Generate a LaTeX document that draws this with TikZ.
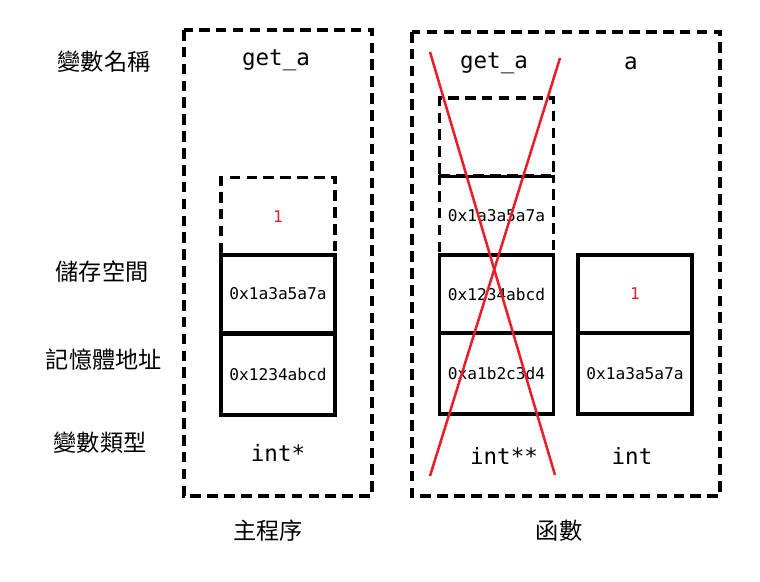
\documentclass[tikz,border=0pt]{standalone}
\usepackage{fontspec}
\setmainfont{Noto Sans CJK TC}
\newfontfamily\codefont{DejaVu Sans Mono}
\usetikzlibrary{calc}

\definecolor{crossred}{RGB}{232,30,40}

\begin{document}
\begin{tikzpicture}[
    x=0.025cm,
    y=-0.025cm,
    line cap=butt,
    line join=miter,
    frame/.style={line width=2.3pt, dash pattern=on 7.5pt off 4.5pt},
    cell/.style={draw, line width=2.3pt, minimum width=2.85cm, minimum height=1.95cm,
                 inner sep=0pt, outer sep=0pt, font=\codefont\fontsize{11.5}{12}\selectfont},
    freecell/.style={cell, dash pattern=on 7.5pt off 4.5pt},
    tallcell/.style={cell, minimum height=2.03cm},
    rowlabel/.style={font=\fontsize{16.5}{18}\selectfont},
    varname/.style={font=\codefont\fontsize{16}{18}\selectfont},
    cross/.style={draw=crossred, line width=1.8pt}
]

\useasboundingbox (0,0) rectangle (760,582);

% Row labels
\node[rowlabel] (lname) at (104,62)  {變數名稱};
\node[rowlabel] (lval)  at (102,272) {儲存空間};
\node[rowlabel] (laddr) at (104,360) {記憶體地址};
\node[rowlabel] (ltype) at (100,443) {變數類型};

% Scopes
\draw[frame] (184,30) rectangle (372,496);
\draw[frame] (412,32) rectangle (720,496);
\node[rowlabel] (tmain) at (268,531) {主程序};
\node[rowlabel] (tfunc) at (559,531) {函數};

% main: get_a
\node[varname] (mname) at (276,60) {get\_a};
\node[freecell] (mfree) at (278,216.5) {\textcolor{crossred}{1}};
\node[cell]     (mval)  at (278,294)   {0x1a3a5a7a};
\node[tallcell] (maddr) at (278,374.5) {0x1234abcd};
\node[varname]  (mtype) at (278,453)   {int*};

% function: get_a
\node[varname]  (pname) at (494,63)    {get\_a};
\node[freecell] (ptop)  at (496.5,137) {};
\node[freecell] (pfree) at (496.5,215.5) {0x1a3a5a7a};
\node[cell]     (pval)  at (496.5,294) {0x1234abcd};
\node[tallcell] (paddr) at (496.5,373.5) {0xa1b2c3d4};
\node[varname]  (ptype) at (504,456)   {int**};

% function: a
\node[varname]  (aname) at (631,63)    {a};
\node[cell]     (aval)  at (635,294)   {\textcolor{crossred}{1}};
\node[tallcell] (aaddr) at (635,373.5) {0x1a3a5a7a};
\node[varname]  (atype) at (632,456)   {int};

% Cross out
\coordinate (x1) at (430,52);
\coordinate (x2) at (555,475);
\coordinate (x3) at (560,58);
\coordinate (x4) at (430,476);
\draw[cross] (x1) -- (x2);
\draw[cross] (x3) -- (x4);

\end{tikzpicture}
\end{document}
